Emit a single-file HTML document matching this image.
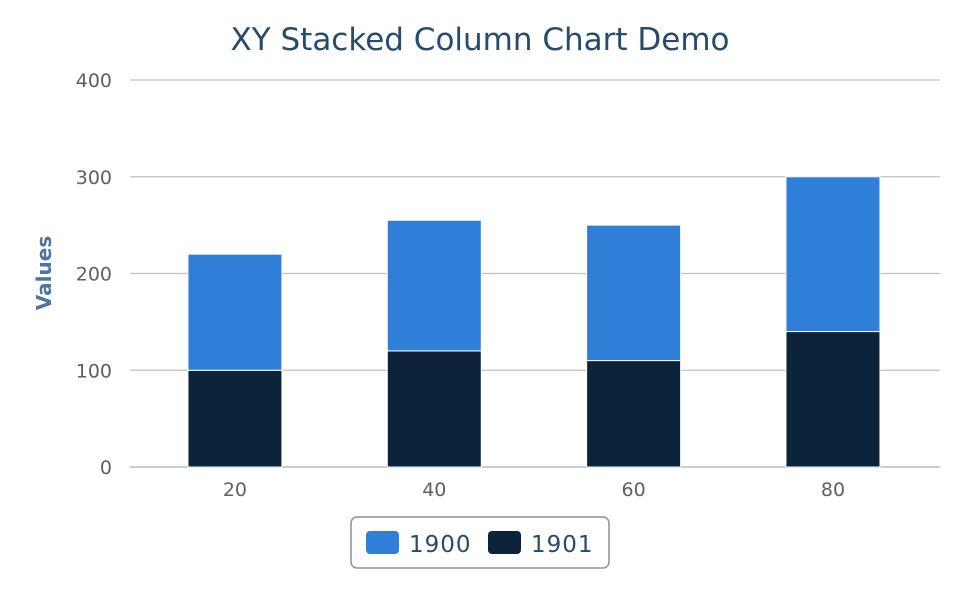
<!DOCTYPE html>
<html><head><meta charset="utf-8"><style>
body{margin:0;background:#fff;}
svg{display:block;font-family:"DejaVu Sans","Liberation Sans",sans-serif;}
</style></head><body>
<svg id="chart" width="960" height="600">
<text x="480" y="50" text-anchor="middle" font-size="31" fill="#274b6d">XY Stacked Column Chart Demo</text>
<text transform="translate(51,273) rotate(-90)" text-anchor="middle" font-size="20" font-weight="bold" fill="#4d759e">Values</text>
<g id="grid"></g><g id="bars"></g><g id="labels"></g>
<g>
<rect x="351" y="517" width="258" height="51" rx="6" fill="#fff" stroke="#909090" stroke-width="1.5"/>
<g>
<rect x="366" y="531" width="33" height="23" rx="4" fill="#2f7ed8"/>
<text x="409" y="552" font-size="23" letter-spacing="1" fill="#274b6d">1900</text></g>
<g>
<rect x="488" y="531" width="33" height="23" rx="4" fill="#0d233a"/>
<text x="531" y="552" font-size="23" letter-spacing="1" fill="#274b6d">1901</text></g>
</g>
</svg>
<script>
const categories=[20,40,60,80];
const series1901=[100,120,110,140];
const series1900=[120,135,140,160];
const yTicks=[0,100,200,300,400];
const NS="http://www.w3.org/2000/svg";
const L=130,R=940,T=80,B=467,XMIN=9.47,XMAX=90.74,YMAX=400;
const xs=v=>L+(v-XMIN)/(XMAX-XMIN)*(R-L);
const ys=v=>B-v/YMAX*(B-T);
function mk(tag,attrs,parent){const e=document.createElementNS(NS,tag);for(const k in attrs)e.setAttribute(k,attrs[k]);document.getElementById(parent).appendChild(e);return e;}
yTicks.forEach(t=>{
 const ln=mk('line',{x1:L,x2:R,y1:ys(t),y2:ys(t),stroke:t===0?'#c0d0e0':'#c0c0c0','stroke-width':t===0?2:1.2},'grid');
 
 
 const tx=mk('text',{x:112,y:ys(t)+7,'text-anchor':'end','font-size':19,fill:'#606060'},'labels');
 tx.textContent=t;
 
 
});
const BW=94;
categories.forEach((c,i)=>{
 const cx=xs(c);
 const b1=mk('rect',{x:cx-BW/2,y:ys(series1901[i]),width:BW,height:ys(0)-ys(series1901[i]),fill:'#0d233a',stroke:'#fff','stroke-width':1},'bars');
 
 
 const top=series1901[i]+series1900[i];
 const b2=mk('rect',{x:cx-BW/2,y:ys(top),width:BW,height:ys(series1901[i])-ys(top),fill:'#2f7ed8',stroke:'#fff','stroke-width':1},'bars');
 
 
 const tx=mk('text',{x:cx,y:496,'text-anchor':'middle','font-size':19,fill:'#606060'},'labels');
 tx.textContent=c;
 
 
});
</script>
</body></html>
